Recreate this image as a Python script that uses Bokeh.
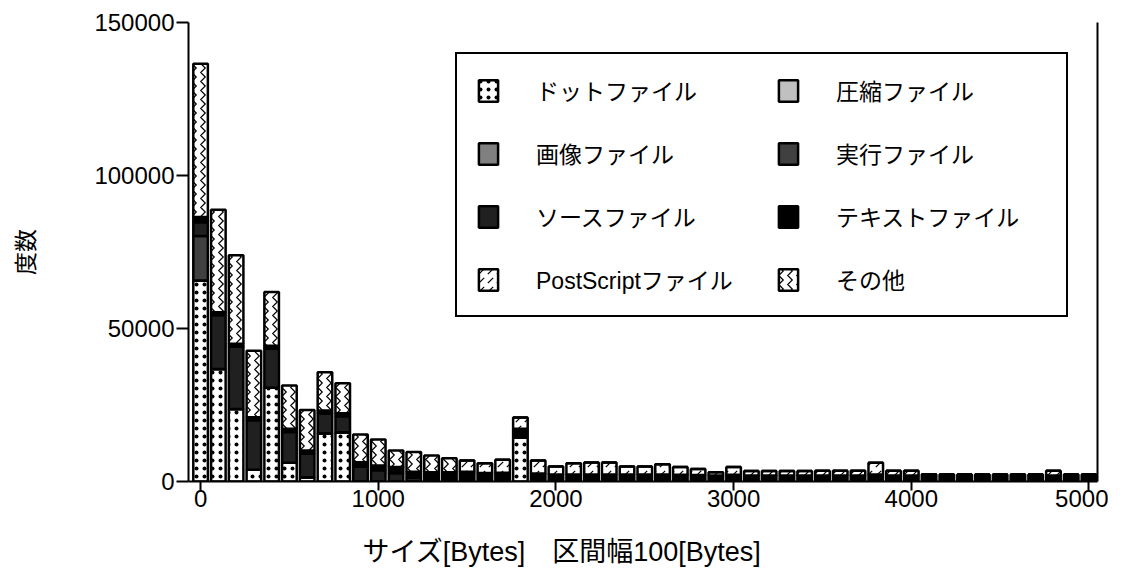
from bokeh.plotting import figure
from bokeh.models import (ColumnDataSource, FixedTicker, LinearAxis, Legend, LegendItem,
                          Range1d, BasicTickFormatter)
from bokeh.transform import stack
from bokeh.embed import file_html
from bokeh.resources import INLINE

# ---- data ----
size_bins = list(range(0, 5001, 100))

dot_files = [65700, 36800, 23700, 3800, 30600, 6100, 1400, 15800, 16100, 0,
             0, 0, 0, 0, 0, 0, 0, 0, 14500, 0,
             0, 0, 0, 0, 0, 0, 0, 0, 0, 0,
             0, 0, 0, 0, 0, 0, 0, 0, 0, 0,
             0, 0, 0, 0, 0, 0, 0, 0, 0, 0, 0]
compressed_files = [0] * 51
image_files = [0] * 51
exec_files = [14500] + [0] * 50
source_files = [4500, 17500, 20300, 16200, 12800, 10100, 7700, 6400, 5200, 4800,
                3700, 2700, 1200, 1000, 800, 0, 0, 0, 0, 0,
                0, 0, 0, 0, 0, 0, 0, 0, 0, 0,
                0, 0, 0, 0, 0, 0, 0, 0, 0, 0,
                0, 0, 0, 0, 0, 0, 0, 0, 0, 0, 0]
text_files = [1700, 1000, 1000, 1000, 1000, 1000, 1000, 1000, 1000, 1500,
              1500, 2000, 2000, 2000, 2200, 3200, 2800, 2900, 2700, 2600,
              2300, 2300, 2300, 2300, 2300, 2300, 2300, 2200, 2100, 2000,
              2200, 2000, 2000, 2000, 2000, 2000, 2000, 2000, 2300, 2000,
              2000, 2400, 2300, 2300, 2300, 2300, 2300, 2300, 2000, 2300, 2300]
ps_files = [0, 0, 0, 0, 0, 0, 0, 0, 0, 0,
            0, 0, 0, 0, 0, 3700, 3200, 4200, 3700, 4300,
            2600, 3700, 3900, 3900, 2600, 2600, 3300, 2500, 2000, 1000,
            2500, 1400, 1400, 1400, 1400, 1500, 1500, 1500, 3800, 1500,
            1500, 0, 0, 0, 0, 0, 0, 0, 1500, 0, 0]
other_files = [50100, 33500, 28900, 21700, 17500, 14200, 13300, 12500, 9800, 9100,
               8500, 5400, 6400, 5500, 4600, 0, 0, 0, 0, 0,
               0, 0, 0, 0, 0, 0, 0, 0, 0, 0,
               0, 0, 0, 0, 0, 0, 0, 0, 0, 0,
               0, 0, 0, 0, 0, 0, 0, 0, 0, 0, 0]

stack_keys = ["dot", "comp", "img", "exe", "src", "txt", "ps", "oth"]
category_labels = ["ドットファイル", "圧縮ファイル", "画像ファイル", "実行ファイル",
                   "ソースファイル", "テキストファイル", "PostScriptファイル", "その他"]
y_ticks = [0, 50000, 100000, 150000]
x_ticks = [0, 1000, 2000, 3000, 4000, 5000]
x_title = "サイズ[Bytes]　区間幅100[Bytes]"
y_title = "度数"

# ---- styles ----
fills = ["white", "#c0c0c0", "#808080", "#404040", "#202020", "black", "white", "white"]
hatches = ["dot", None, None, None, None, None, "right_diagonal_dash", "vertical_wave"]
hatch_scales = [8, 12, 12, 12, 12, 12, 9, 9]
hatch_weights = [1.0, 1, 1, 1, 1, 1, 1.2, 1.2]

FONT = "Liberation Sans, Noto Sans CJK JP"
# trailing ideographic spaces move the centred x-axis title to the left, as in the original
X_TITLE_PAD = "\u3000" * 6

source = ColumnDataSource(dict(x=size_bins, dot=dot_files, comp=compressed_files,
                               img=image_files, exe=exec_files, src=source_files,
                               txt=text_files, ps=ps_files, oth=other_files))

p = figure(width=1108, height=572, output_backend="svg", toolbar_location=None,
           x_range=Range1d(-68, 5048), y_range=Range1d(0, 150000),
           min_border_left=188, min_border_right=11, min_border_top=22, min_border_bottom=91)
p.outline_line_color = None
p.xgrid.visible = False
p.ygrid.visible = False

renderers = []
bottom_keys = []
for i, key in enumerate(stack_keys):
    kw = dict(x="x", width=82, top=stack(*(bottom_keys + [key])),
              bottom=stack(*bottom_keys), source=source,
              fill_color=fills[i], line_color="black", line_width=2.5)
    if hatches[i]:
        kw.update(hatch_pattern=hatches[i], hatch_color="black",
                  hatch_scale=hatch_scales[i], hatch_weight=hatch_weights[i])
    r = p.vbar(**kw)
    renderers.append(r)
    bottom_keys.append(key)

items = [LegendItem(label=category_labels[i], renderers=[renderers[i]]) for i in range(8)]
legend = Legend(items=items, ncols=2, orientation="horizontal",
                location=(267, 164), glyph_width=24, glyph_height=27,
                label_text_font=FONT, label_text_font_size="23px",
                label_text_color="black",
                label_standoff=36, label_width=211, label_height=27,
                spacing=29, padding=19, margin=0,
                border_line_color="black", border_line_width=2, border_line_alpha=1.0,
                background_fill_color="white", background_fill_alpha=1.0)
p.add_layout(legend)

for ax in (p.xaxis, p.yaxis):
    ax.axis_line_width = 2
    ax.axis_line_color = "black"
    ax.major_tick_line_width = 2
    ax.major_tick_line_color = "black"
    ax.major_tick_in = 0
    ax.minor_tick_line_color = None
    ax.major_label_text_font = FONT
    ax.major_label_text_font_size = "24px"
    ax.major_label_text_color = "black"
    ax.axis_label_text_font = FONT
    ax.axis_label_text_font_style = "normal"
    ax.axis_label_text_color = "black"

p.xaxis.ticker = FixedTicker(ticks=x_ticks)
p.yaxis.ticker = FixedTicker(ticks=y_ticks)
p.yaxis.formatter = BasicTickFormatter(use_scientific=False)
p.xaxis.major_tick_out = 9
p.yaxis.major_tick_out = 12
p.xaxis.major_label_standoff = -1
p.yaxis.major_label_standoff = 2

p.yaxis.axis_label = y_title
p.yaxis.axis_label_text_font_size = "23px"
p.yaxis.axis_label_standoff = 52

p.xaxis.axis_label = x_title + X_TITLE_PAD
p.xaxis.axis_label_text_font_size = "27px"
p.xaxis.axis_label_standoff = 27

right_axis = LinearAxis(ticker=FixedTicker(ticks=[]), axis_line_width=2, axis_line_color="black",
                        major_tick_line_color=None, minor_tick_line_color=None,
                        major_label_text_font_size="0px")
p.add_layout(right_axis, "right")

open("out.html", "w").write(file_html(p, INLINE))
